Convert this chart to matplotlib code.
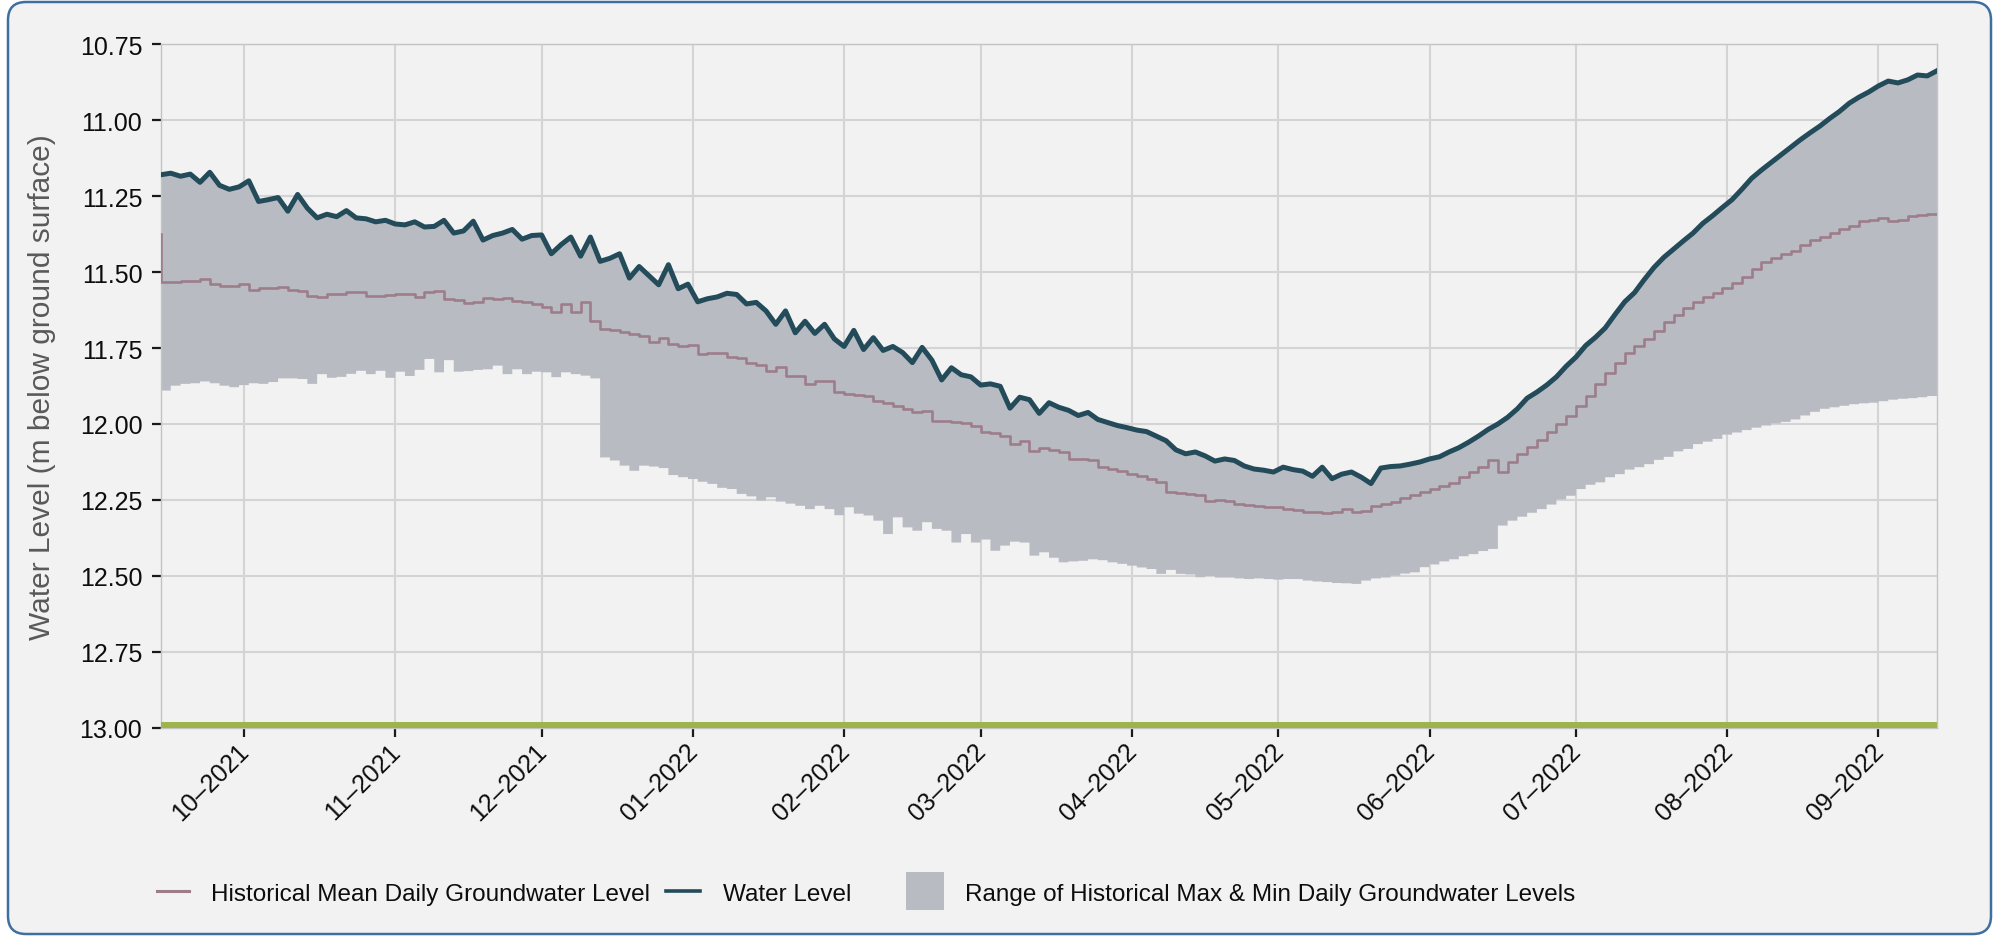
import matplotlib
matplotlib.use("Agg")
import matplotlib.pyplot as plt
import matplotlib.dates as mdates
import numpy as np
import pandas as pd
from matplotlib.patches import FancyBboxPatch, Rectangle
from matplotlib.lines import Line2D
from matplotlib.transforms import IdentityTransform, ScaledTranslation
from matplotlib.cbook import pts_to_prestep
from matplotlib.ticker import FormatStrFormatter

plt.rcParams["font.family"] = ["Liberation Sans", "DejaVu Sans"]

# ---------------- data (every 2 days, 2021-09-14 .. 2022-09-13) ----------------
start_date = "2021-09-14"
n_points = 183

water_level = [
    11.180, 11.175, 11.185, 11.178, 11.205, 11.172, 11.215, 11.228, 11.220, 11.200,
    11.268, 11.262, 11.255, 11.300, 11.245, 11.290, 11.322, 11.310, 11.318, 11.298,
    11.322, 11.325, 11.335, 11.330, 11.342, 11.345, 11.335, 11.352, 11.350, 11.330,
    11.372, 11.365, 11.333, 11.395, 11.380, 11.372, 11.360, 11.392, 11.380, 11.378,
    11.440, 11.410, 11.385, 11.448, 11.385, 11.465, 11.455, 11.440, 11.520, 11.482,
    11.512, 11.542, 11.476, 11.555, 11.540, 11.598, 11.588, 11.582, 11.570, 11.574,
    11.605, 11.600, 11.628, 11.672, 11.628, 11.700, 11.662, 11.702, 11.672, 11.720,
    11.745, 11.692, 11.755, 11.716, 11.758, 11.745, 11.765, 11.798, 11.748, 11.790,
    11.855, 11.815, 11.838, 11.845, 11.872, 11.868, 11.876, 11.948, 11.912, 11.920,
    11.965, 11.930, 11.945, 11.955, 11.972, 11.962, 11.985, 11.995, 12.005, 12.012,
    12.020, 12.025, 12.040, 12.055, 12.085, 12.098, 12.092, 12.105, 12.122, 12.115,
    12.120, 12.138, 12.148, 12.152, 12.158, 12.142, 12.150, 12.155, 12.172, 12.142,
    12.180, 12.165, 12.158, 12.175, 12.196, 12.145, 12.140, 12.138, 12.132, 12.125,
    12.115, 12.108, 12.092, 12.078, 12.060, 12.040, 12.018, 12.000, 11.978, 11.950,
    11.915, 11.895, 11.872, 11.845, 11.810, 11.780, 11.742, 11.715, 11.684, 11.640,
    11.598, 11.568, 11.525, 11.485, 11.452, 11.425, 11.398, 11.372, 11.340, 11.315,
    11.288, 11.262, 11.228, 11.192, 11.165, 11.140, 11.115, 11.090, 11.065, 11.042,
    11.020, 10.995, 10.972, 10.945, 10.925, 10.908, 10.888, 10.872, 10.878, 10.868,
    10.852, 10.855, 10.838,
]

hist_mean = [
    11.375, 11.532, 11.532, 11.530, 11.530, 11.522, 11.540, 11.545, 11.545, 11.538,
    11.558, 11.552, 11.552, 11.548, 11.560, 11.562, 11.580, 11.582, 11.572, 11.572,
    11.566, 11.566, 11.578, 11.578, 11.575, 11.572, 11.574, 11.582, 11.565, 11.561,
    11.590, 11.592, 11.602, 11.600, 11.586, 11.588, 11.586, 11.595, 11.598, 11.605,
    11.615, 11.630, 11.605, 11.633, 11.600, 11.660, 11.687, 11.690, 11.697, 11.705,
    11.712, 11.730, 11.717, 11.737, 11.745, 11.740, 11.770, 11.766, 11.766, 11.780,
    11.782, 11.800, 11.805, 11.825, 11.813, 11.841, 11.841, 11.868, 11.860, 11.857,
    11.896, 11.901, 11.903, 11.907, 11.925, 11.932, 11.940, 11.950, 11.960, 11.956,
    11.989, 11.990, 11.993, 11.998, 12.005, 12.027, 12.030, 12.038, 12.066, 12.055,
    12.088, 12.078, 12.085, 12.092, 12.115, 12.115, 12.120, 12.140, 12.148, 12.155,
    12.164, 12.170, 12.180, 12.192, 12.225, 12.228, 12.230, 12.232, 12.252, 12.250,
    12.252, 12.262, 12.265, 12.270, 12.272, 12.274, 12.280, 12.284, 12.290, 12.290,
    12.292, 12.290, 12.280, 12.290, 12.285, 12.269, 12.262, 12.255, 12.245, 12.235,
    12.225, 12.215, 12.205, 12.195, 12.175, 12.159, 12.140, 12.120, 12.159, 12.126,
    12.100, 12.077, 12.052, 12.027, 12.000, 11.973, 11.940, 11.907, 11.870, 11.833,
    11.800, 11.768, 11.745, 11.722, 11.695, 11.665, 11.640, 11.620, 11.600, 11.582,
    11.570, 11.552, 11.536, 11.515, 11.490, 11.468, 11.455, 11.442, 11.432, 11.412,
    11.395, 11.385, 11.372, 11.360, 11.350, 11.333, 11.328, 11.323, 11.332, 11.330,
    11.315, 11.312, 11.308,
]

hist_min = [
    11.890, 11.890, 11.874, 11.868, 11.866, 11.860, 11.866, 11.874, 11.879, 11.872,
    11.866, 11.868, 11.862, 11.850, 11.850, 11.852, 11.868, 11.836, 11.848, 11.845,
    11.835, 11.825, 11.836, 11.825, 11.848, 11.828, 11.842, 11.822, 11.786, 11.830,
    11.790, 11.828, 11.826, 11.822, 11.820, 11.808, 11.836, 11.820, 11.836, 11.828,
    11.830, 11.846, 11.830, 11.836, 11.841, 11.850, 12.110, 12.120, 12.137, 12.154,
    12.137, 12.140, 12.145, 12.168, 12.175, 12.181, 12.190, 12.197, 12.210, 12.214,
    12.230, 12.238, 12.252, 12.241, 12.255, 12.262, 12.269, 12.280, 12.269, 12.280,
    12.300, 12.274, 12.295, 12.301, 12.318, 12.362, 12.307, 12.340, 12.351, 12.323,
    12.345, 12.351, 12.390, 12.362, 12.390, 12.380, 12.417, 12.400, 12.387, 12.390,
    12.433, 12.422, 12.440, 12.455, 12.452, 12.450, 12.445, 12.448, 12.455, 12.460,
    12.466, 12.472, 12.477, 12.493, 12.480, 12.493, 12.495, 12.504, 12.500, 12.505,
    12.505, 12.508, 12.510, 12.508, 12.510, 12.512, 12.510, 12.510, 12.515, 12.518,
    12.520, 12.523, 12.524, 12.526, 12.515, 12.508, 12.505, 12.499, 12.492, 12.488,
    12.471, 12.462, 12.452, 12.445, 12.435, 12.428, 12.418, 12.411, 12.334, 12.318,
    12.305, 12.292, 12.280, 12.265, 12.248, 12.236, 12.214, 12.200, 12.192, 12.175,
    12.165, 12.150, 12.142, 12.132, 12.118, 12.108, 12.090, 12.082, 12.066, 12.058,
    12.049, 12.035, 12.028, 12.020, 12.012, 12.005, 11.998, 11.993, 11.985, 11.972,
    11.960, 11.950, 11.945, 11.940, 11.935, 11.932, 11.930, 11.925, 11.920, 11.917,
    11.915, 11.912, 11.908,
]

y_ticks = [10.75, 11.00, 11.25, 11.50, 11.75, 12.00, 12.25, 12.50, 12.75, 13.00]
reference_depth = 13.0

legend_labels = [
    "Historical Mean Daily Groundwater Level",
    "Water Level",
    "Range of Historical Max & Min Daily Groundwater Levels",
]

# ---------------- styling ----------------
C_BG = "#f2f2f2"
C_BORDER = "#3f6f9f"
C_WL = "#234b5a"
C_MEAN = "#9d7d8a"
C_FILL = "#b8bcc2"
C_GRID = "#d4d4d4"
C_GREEN = "#9db44c"

W, H = 1999, 937
fig = plt.figure(figsize=(W / 100, H / 100), dpi=100, facecolor="white")

panel = FancyBboxPatch((8, 2), 1983, 932,
                       boxstyle="round,pad=0,rounding_size=18",
                       transform=IdentityTransform(),
                       facecolor=C_BG, edgecolor=C_BORDER, linewidth=1.8,
                       zorder=-10)
fig.patches.append(panel)

ax = fig.add_axes([161 / W, 1 - 729 / H, (1937 - 161) / W, (729 - 45) / H])
ax.set_facecolor(C_BG)

dates = pd.date_range(start_date, periods=n_points, freq="2D")
x = mdates.date2num(dates)
wl = np.array(water_level)
mn = np.array(hist_min)
mean = np.array(hist_mean)

# range polygon: top follows water level, bottom is the stepped historical minimum
steps = pts_to_prestep(x, mn)
poly_x = np.concatenate([x, steps[0][::-1]])
poly_y = np.concatenate([wl, steps[1][::-1]])
ax.fill(poly_x, poly_y, color=C_FILL, lw=0, zorder=2)

ax.plot(dates, mean, color=C_MEAN, lw=1.9, drawstyle="steps-pre", zorder=3)
ax.plot(dates, wl, color=C_WL, lw=3.6, zorder=4, solid_joinstyle="round")
ax.axhline(reference_depth, color=C_GREEN, lw=8.6, zorder=5)

ax.set_xlim(x[0], x[-1])
ax.set_ylim(y_ticks[-1], y_ticks[0])
ax.set_yticks(y_ticks)
ax.yaxis.set_major_formatter(FormatStrFormatter("%.2f"))
ax.xaxis.set_major_locator(mdates.MonthLocator())
ax.xaxis.set_major_formatter(mdates.DateFormatter("%m\u2013%Y"))

ax.grid(True, color=C_GRID, lw=1.5)
ax.set_axisbelow(True)
for s in ax.spines.values():
    s.set_color("#c4c4c4")
    s.set_linewidth(1.0)

ax.tick_params(axis="both", length=6.5, width=1.6, color="#1a1a1a",
               labelsize=18, labelcolor="#0d0d0d", pad=7)
for lab in ax.get_xticklabels():
    lab.set_rotation(45)
    lab.set_ha("right")
    lab.set_transform(lab.get_transform() + ScaledTranslation(0.10, 0.08, fig.dpi_scale_trans))

ax.set_ylabel("Water Level (m below ground surface)", fontsize=21.5, color="#595959")
ax.yaxis.set_label_coords(-0.059, 0.5)

# ---------------- legend ----------------
def fx(px):
    return px / W

def fy(py):
    return 1 - py / H

ly = 892
fig.add_artist(Line2D([fx(157), fx(189)], [fy(ly), fy(ly)], color=C_MEAN, lw=2.2))
fig.text(fx(211), fy(901), legend_labels[0], fontsize=17.5, color="#0d0d0d", va="baseline")
fig.add_artist(Line2D([fx(666), fx(700)], [fy(ly), fy(ly)], color=C_WL, lw=2.6))
fig.text(fx(723), fy(901), legend_labels[1], fontsize=17.5, color="#0d0d0d", va="baseline")
fig.add_artist(Rectangle((fx(906), fy(911)), fx(944) - fx(906), fy(873) - fy(911),
                         transform=fig.transFigure, facecolor=C_FILL, edgecolor="none",
                         zorder=5))
fig.text(fx(965), fy(901), legend_labels[2], fontsize=17.5, color="#0d0d0d", va="baseline")

fig.savefig("out.png", dpi=100, facecolor="white")
